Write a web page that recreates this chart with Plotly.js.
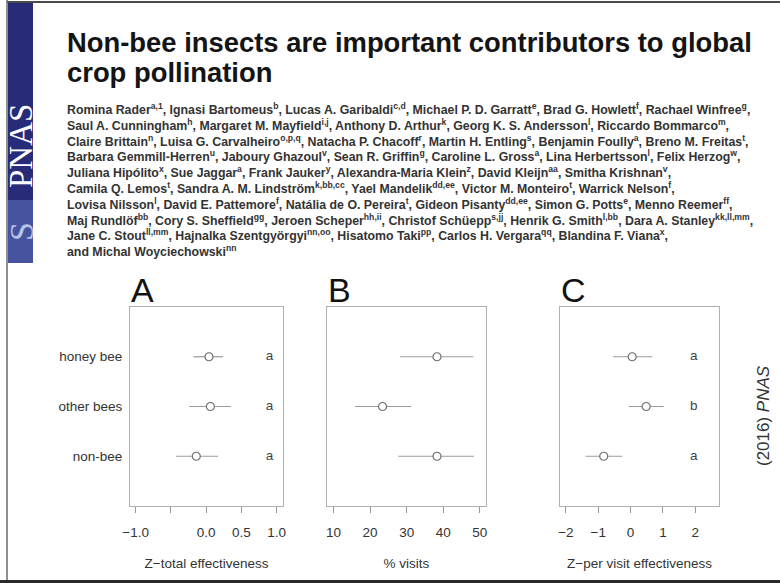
<!DOCTYPE html>
<html>
<head>
<meta charset="utf-8">
<script src="https://cdn.plot.ly/plotly-3.0.1.min.js"></script>
<style>
  html, body { margin: 0; padding: 0; background: #fff; }
  #chart { width: 780px; height: 583px; }
</style>
</head>
<body>
<div id="chart"></div>
<script>
// Pollinator groups, top to bottom
const groups = ['honey bee', 'other bees', 'non-bee'];

// A: Z-total effectiveness (mean and 95% interval)
const zTotal   = [0.04, 0.06, -0.14];
const zTotalLo = [-0.18, -0.24, -0.43];
const zTotalHi = [0.24, 0.35, 0.17];
const zTotalLetters = ['a', 'a', 'a'];

// B: % visits
const visits   = [38.3, 23.4, 38.3];
const visitsLo = [28.2, 15.9, 27.7];
const visitsHi = [48.2, 31.2, 48.4];

// C: Z-per visit effectiveness
const zVisit   = [0.05, 0.48, -0.83];
const zVisitLo = [-0.54, -0.05, -1.39];
const zVisitHi = [0.67, 1.02, -0.26];
const zVisitLetters = ['a', 'b', 'a'];

// Tick labels
const tickA = ['\u22121.0', '', '0.0', '0.5', '1.0'];
const tickB = ['10', '20', '30', '40', '50'];
const tickC = ['\u22122', '\u22121', '0', '1', '2'];

const titleLines = [
  'Non-bee insects are important contributors to global',
  'crop pollination'
];
const authorLines = [
  'Romina Rader<sup>a,1</sup>, Ignasi Bartomeus<sup>b</sup>, Lucas A. Garibaldi<sup>c,d</sup>, Michael P. D. Garratt<sup>e</sup>, Brad G. Howlett<sup>f</sup>, Rachael Winfree<sup>g</sup>,',
  'Saul A. Cunningham<sup>h</sup>, Margaret M. Mayfield<sup>i,j</sup>, Anthony D. Arthur<sup>k</sup>, Georg K. S. Andersson<sup>l</sup>, Riccardo Bommarco<sup>m</sup>,',
  'Claire Brittain<sup>n</sup>, Luisa G. Carvalheiro<sup>o,p,q</sup>, Natacha P. Chacoff<sup>r</sup>, Martin H. Entling<sup>s</sup>, Benjamin Foully<sup>a</sup>, Breno M. Freitas<sup>t</sup>,',
  'Barbara Gemmill-Herren<sup>u</sup>, Jaboury Ghazoul<sup>v</sup>, Sean R. Griffin<sup>g</sup>, Caroline L. Gross<sup>a</sup>, Lina Herbertsson<sup>l</sup>, Felix Herzog<sup>w</sup>,',
  'Juliana Hipólito<sup>x</sup>, Sue Jaggar<sup>a</sup>, Frank Jauker<sup>y</sup>, Alexandra-Maria Klein<sup>z</sup>, David Kleijn<sup>aa</sup>, Smitha Krishnan<sup>v</sup>,',
  'Camila Q. Lemos<sup>t</sup>, Sandra A. M. Lindström<sup>k,bb,cc</sup>, Yael Mandelik<sup>dd,ee</sup>, Victor M. Monteiro<sup>t</sup>, Warrick Nelson<sup>f</sup>,',
  'Lovisa Nilsson<sup>l</sup>, David E. Pattemore<sup>f</sup>, Natália de O. Pereira<sup>t</sup>, Gideon Pisanty<sup>dd,ee</sup>, Simon G. Potts<sup>e</sup>, Menno Reemer<sup>ff</sup>,',
  'Maj Rundlöf<sup>bb</sup>, Cory S. Sheffield<sup>gg</sup>, Jeroen Scheper<sup>hh,ii</sup>, Christof Schüepp<sup>s,jj</sup>, Henrik G. Smith<sup>l,bb</sup>, Dara A. Stanley<sup>kk,ll,mm</sup>,',
  'Jane C. Stout<sup>ll,mm</sup>, Hajnalka Szentgyörgyi<sup>nn,oo</sup>, Hisatomo Taki<sup>pp</sup>, Carlos H. Vergara<sup>qq</sup>, Blandina F. Viana<sup>x</sup>,',
  'and Michal Woyciechowski<sup>nn</sup>'
];

const W = 780, H = 583;
const px = x => x / W;
const py = y => 1 - y / H;

const SANS = 'Liberation Sans, Arial, sans-serif';

function diff(a, b) { return a.map((v, i) => v - b[i]); }

function pointTrace(vals, lo, hi, xa, ya) {
  return {
    type: 'scatter', mode: 'markers',
    x: vals, y: groups, xaxis: xa, yaxis: ya,
    error_x: {
      type: 'data', symmetric: false,
      array: diff(hi, vals), arrayminus: diff(vals, lo),
      color: '#9a9a9a', thickness: 1.2, width: 0
    },
    marker: { symbol: 'circle', size: 8, color: '#ffffff',
              line: { color: '#6e6e6e', width: 1.2 } },
    hoverinfo: 'x+y', showlegend: false, cliponaxis: false
  };
}

function letterTrace(letters, xpos, xa, ya) {
  return {
    type: 'scatter', mode: 'text',
    x: groups.map(() => xpos), y: groups, xaxis: xa, yaxis: ya,
    text: letters, textposition: 'middle center',
    textfont: { family: SANS, size: 13.5, color: '#444' },
    hoverinfo: 'skip', showlegend: false
  };
}

const data = [
  pointTrace(zTotal, zTotalLo, zTotalHi, 'x', 'y'),
  letterTrace(zTotalLetters, 0.9, 'x', 'y'),
  pointTrace(visits, visitsLo, visitsHi, 'x2', 'y2'),
  pointTrace(zVisit, zVisitLo, zVisitHi, 'x3', 'y3'),
  letterTrace(zVisitLetters, 1.95, 'x3', 'y3')
];

const yDomain = [py(506), py(307)];

function xAxis(domain, range, vals, text, title, yref) {
  return {
    domain: domain, range: range, anchor: yref,
    tickmode: 'array', tickvals: vals, ticktext: text,
    ticks: 'outside', ticklen: 6, tickwidth: 1, tickcolor: '#999',
    ticklabelstandoff: 8,
    tickfont: { family: SANS, size: 13.5, color: '#333' },
    showline: true, mirror: true, linecolor: '#b0b0b0', linewidth: 1,
    showgrid: false, zeroline: false, fixedrange: true,
    title: { text: title, standoff: 19, font: { family: SANS, size: 13.5, color: '#333' } }
  };
}

function yAxis(xref, showLabels) {
  return {
    domain: yDomain, anchor: xref, range: [-1, 3],
    type: 'category', categoryorder: 'array',
    categoryarray: groups.slice().reverse(),
    showticklabels: showLabels, ticks: '', ticklabelstandoff: 4,
    tickfont: { family: SANS, size: 13.5, color: '#333' },
    showline: true, mirror: true, linecolor: '#b0b0b0', linewidth: 1,
    showgrid: false, zeroline: false, fixedrange: true
  };
}

const annotations = [];
// headline
titleLines.forEach((t, i) => annotations.push({
  xref: 'paper', yref: 'paper', x: px(65), y: py(42 + i * 30.5),
  xanchor: 'left', yanchor: 'middle', showarrow: false,
  text: '<b>' + t + '</b>',
  font: { family: SANS, size: 27.4, color: '#141414' }
}));
// author list
authorLines.forEach((t, i) => annotations.push({
  xref: 'paper', yref: 'paper', x: px(65), y: py(109 + i * 15.8),
  xanchor: 'left', yanchor: 'middle', showarrow: false,
  text: '<b>' + t + '</b>',
  font: { family: SANS, size: 12.35, color: '#333333' }
}));
// journal mark in the side band
annotations.push({
  xref: 'paper', yref: 'paper', x: px(21), y: py(146),
  xanchor: 'center', yanchor: 'middle', showarrow: false, textangle: -90,
  text: 'PNAS', font: { family: 'Liberation Serif, serif', size: 33, color: '#ffffff' }
});
annotations.push({
  xref: 'paper', yref: 'paper', x: px(21), y: py(232),
  xanchor: 'center', yanchor: 'middle', showarrow: false, textangle: -90,
  text: 'S', font: { family: 'Liberation Serif, serif', size: 34, color: '#b8c2e6' }
});
// panel letters
[['A', 129], ['B', 326], ['C', 559]].forEach(([t, x]) => annotations.push({
  xref: 'paper', yref: 'paper', x: px(x), y: py(290),
  xanchor: 'left', yanchor: 'middle', showarrow: false,
  text: t, font: { family: SANS, size: 34, color: '#111' }
}));
// citation
annotations.push({
  xref: 'paper', yref: 'paper', x: px(763), y: py(416),
  xanchor: 'center', yanchor: 'middle', showarrow: false, textangle: -90,
  text: '(2016) <i>PNAS</i>', font: { family: SANS, size: 17, color: '#333' }
});

const shapes = [
  // side band
  { type: 'rect', xref: 'paper', yref: 'paper', x0: px(8), x1: px(33), y0: py(263), y1: py(3),
    fillcolor: '#272b78', line: { width: 0 }, layer: 'below' },
  { type: 'rect', xref: 'paper', yref: 'paper', x0: px(8), x1: px(33), y0: py(263), y1: py(200),
    fillcolor: '#4654a0', line: { width: 0 }, layer: 'below' },
  // frame lines
  { type: 'line', xref: 'paper', yref: 'paper', x0: px(7), x1: 1, y0: py(2), y1: py(2),
    line: { color: '#4a4a4a', width: 2 } },
  { type: 'line', xref: 'paper', yref: 'paper', x0: px(7), x1: px(7), y0: 0, y1: 1,
    line: { color: '#6a6a6a', width: 1.5 } },
  { type: 'line', xref: 'paper', yref: 'paper', x0: 0, x1: 1, y0: py(581.5), y1: py(581.5),
    line: { color: '#2a2a2a', width: 3 } }
];

const layout = {
  width: W, height: H,
  margin: { l: 0, r: 0, t: 0, b: 0 },
  paper_bgcolor: '#ffffff', plot_bgcolor: '#ffffff',
  showlegend: false,
  xaxis:  xAxis([px(130), px(283)], [-1.08, 1.09], [-1, -0.5, 0, 0.5, 1], tickA, 'Z\u2212total effectiveness', 'y'),
  xaxis2: xAxis([px(327), px(486)], [8.2, 51.7], [10, 20, 30, 40, 50], tickB, '% visits', 'y2'),
  xaxis3: xAxis([px(560), px(719)], [-2.18, 2.73], [-2, -1, 0, 1, 2], tickC, 'Z\u2212per visit effectiveness', 'y3'),
  yaxis:  yAxis('x', true),
  yaxis2: yAxis('x2', false),
  yaxis3: yAxis('x3', false),
  annotations: annotations,
  shapes: shapes
};

Plotly.newPlot('chart', data, layout, { displayModeBar: false, staticPlot: true });
</script>
</body>
</html>
